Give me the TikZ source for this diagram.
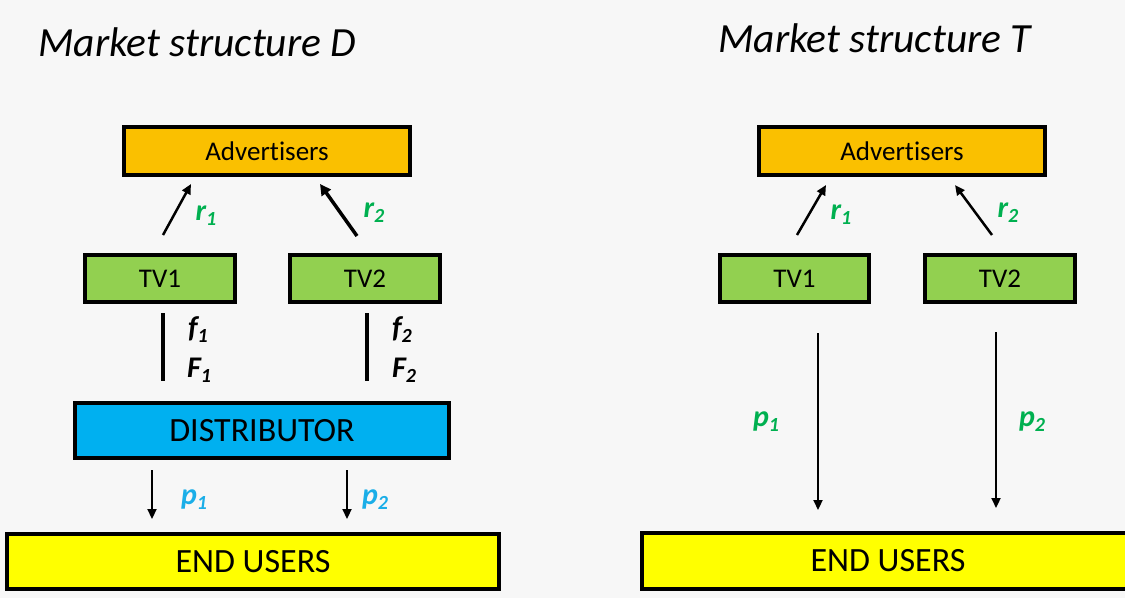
\documentclass[tikz,border=0pt]{standalone}
\usepackage{fontspec}
\setmainfont{Carlito}[Ligatures=NoCommon]
\usetikzlibrary{arrows.meta}
\definecolor{bg}{HTML}{F7F7F7}
\definecolor{adv}{HTML}{FAC000}
\definecolor{tvg}{HTML}{92D050}
\definecolor{dist}{HTML}{00B0F0}
\definecolor{usr}{HTML}{FFFF00}
\definecolor{lgreen}{HTML}{00B050}
\definecolor{lblue}{HTML}{1AAEE8}
\newcommand{\lbl}[2]{{\bfseries\itshape #1\raisebox{-0.35ex}{\fontsize{20}{20}\selectfont #2}}}
\tikzset{
  box/.style={draw=black, line width=4pt, inner sep=0pt, anchor=north west},
  ttl/.style={font=\fontsize{41.5}{48}\selectfont\itshape, anchor=west, inner sep=0pt},
  arr/.style={line width=2.5pt, -{Triangle[length=10pt,width=9pt]}},
  arrb/.style={line width=3.5pt, -{Triangle[length=11pt,width=11pt]}},
  arrp/.style={line width=2.2pt, -{Triangle[length=10pt,width=9pt]}},
  lab/.style={font=\fontsize{30}{34}\selectfont, inner sep=0pt},
  bar/.style={line width=3.5pt},
  fs/.style={font=\fontsize{27}{30}\selectfont},
  fl/.style={font=\fontsize{34}{38}\selectfont}
}
\begin{document}
\begin{tikzpicture}[x=1pt,y=-1pt]
\fill[bg] (0,0) rectangle (1125,598);
\useasboundingbox (0,0) rectangle (1125,598);
% titles
\node[ttl] (tD) at (38,42) {Market structure D};
\node[ttl] (tT) at (718,38) {Market structure T};
% ---------------- left ----------------
\node[box, fill=adv, minimum width=286pt, minimum height=48pt, fs] (advL) at (122,125) {Advertisers};
\node[box, fill=tvg, minimum width=150pt, minimum height=47pt, fs] (tv1L) at (83,253) {TV1};
\node[box, fill=tvg, minimum width=150pt, minimum height=47pt, fs] (tv2L) at (288,253) {TV2};
\node[box, fill=dist, minimum width=374pt, minimum height=55pt, fl] (dst) at (73,401) {DISTRIBUTOR};
\node[box, fill=usr, minimum width=492pt, minimum height=55pt, fl] (euL) at (5,532) {END USERS};
\coordinate (r1a) at (163,235); \coordinate (r1b) at (191,184);
\coordinate (r2a) at (357,236); \coordinate (r2b) at (320,184);
\draw[arr] (r1a) -- (r1b);
\draw[arrb] (r2a) -- (r2b);
\node[lab, text=lgreen] (r1L) at (206,216) {\lbl{r}{1}};
\node[lab, text=lgreen] (r2L) at (374,213) {\lbl{r}{2}};
\coordinate (f1a) at (163,313); \coordinate (f1b) at (163,381);
\coordinate (f2a) at (367,313); \coordinate (f2b) at (367,381);
\draw[bar] (f1a) -- (f1b);
\draw[bar] (f2a) -- (f2b);
\node[lab] (f1) at (198,330) {\lbl{f}{1}};
\node[lab] (F1) at (199,370) {\lbl{F}{1}};
\node[lab] (f2) at (402,330) {\lbl{f}{2}};
\node[lab] (F2) at (404,370) {\lbl{F}{2}};
\coordinate (p1a) at (152,470); \coordinate (p1b) at (152,519);
\coordinate (p2a) at (347,470); \coordinate (p2b) at (347,519);
\draw[arrp] (p1a) -- (p1b);
\draw[arrp] (p2a) -- (p2b);
\node[lab, text=lblue] (p1L) at (194,500) {\lbl{p}{1}};
\node[lab, text=lblue] (p2L) at (375,500) {\lbl{p}{2}};
% ---------------- right ----------------
\node[box, fill=adv, minimum width=286pt, minimum height=48pt, fs] (advR) at (757,125) {Advertisers};
\node[box, fill=tvg, minimum width=149pt, minimum height=47pt, fs] (tv1R) at (718,253) {TV1};
\node[box, fill=tvg, minimum width=150pt, minimum height=47pt, fs] (tv2R) at (923,253) {TV2};
\node[box, fill=usr, minimum width=492pt, minimum height=56pt, fl] (euR) at (640,531) {END USERS};
\coordinate (s1a) at (797,235); \coordinate (s1b) at (826,185);
\coordinate (s2a) at (992,235); \coordinate (s2b) at (955,185);
\draw[arr] (s1a) -- (s1b);
\draw[arr] (s2a) -- (s2b);
\node[lab, text=lgreen] (r1R) at (841,215) {\lbl{r}{1}};
\node[lab, text=lgreen] (r2R) at (1008,213) {\lbl{r}{2}};
\coordinate (q1a) at (818,333); \coordinate (q1b) at (818,510);
\coordinate (q2a) at (996,332); \coordinate (q2b) at (996,508);
\draw[arrp] (q1a) -- (q1b);
\draw[arrp] (q2a) -- (q2b);
\node[lab, text=lgreen] (p1R) at (766,422) {\lbl{p}{1}};
\node[lab, text=lgreen] (p2R) at (1032,422) {\lbl{p}{2}};
\end{tikzpicture}
\end{document}
